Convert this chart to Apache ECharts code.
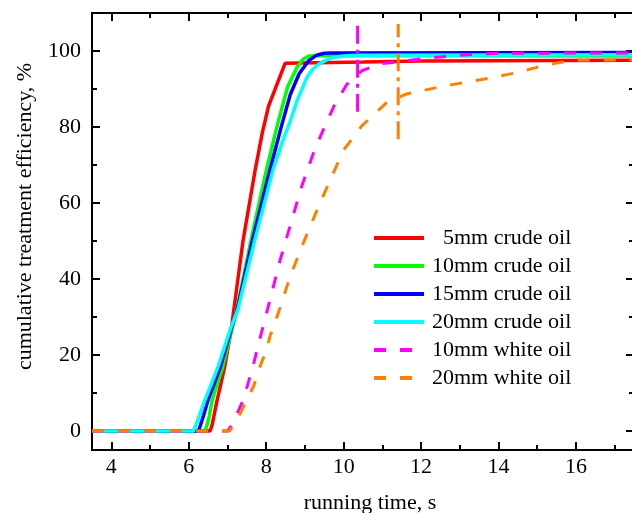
<!DOCTYPE html>
<html><head><meta charset="utf-8">
<script src="https://cdn.jsdelivr.net/npm/echarts@6/dist/echarts.min.js"></script>
<style>html,body{margin:0;padding:0;background:#fff}#c{width:632px;height:513px}</style>
</head><body><div id="c"></div>
<script>
const crude5 = [[3.5,0],[6.55,0],[6.6,1.5],[6.65,4],[6.73,8],[6.83,12.5],[6.93,17],[7.1,27],[7.4,50],[7.72,69],[7.9,78.5],[8.06,85.5],[8.49,96.8],[10.5,97.1],[12,97.4],[17.5,97.6]];
const crude10 = [[3.5,0],[6.42,0],[6.47,1.5],[6.53,4],[6.6,8],[6.74,12.5],[6.88,17],[7.12,27],[7.24,32],[7.61,50.4],[8.01,68.9],[8.3,81],[8.55,90.5],[8.8,95.8],[8.95,97.8],[9.1,98.7],[9.5,98.8],[17.5,98.7]];
const crude15 = [[3.5,0],[6.25,0],[6.3,1.5],[6.38,4],[6.5,8.2],[6.66,12.5],[6.82,17],[7.1,27],[7.25,32],[7.65,50.4],[8.1,68.9],[8.4,80.5],[8.62,88.5],[8.85,94],[9.1,97.5],[9.3,98.9],[9.5,99.4],[9.7,99.5],[17.5,99.6]];
const crude20 = [[3.5,0],[6.12,0],[6.18,1.5],[6.27,4],[6.42,8.2],[6.6,12.7],[6.76,17],[7.08,27],[7.27,32],[7.71,50.4],[8.18,68.9],[8.45,77],[8.62,81.5],[8.8,87],[9.05,93],[9.2,95.2],[9.35,96.5],[9.55,97.6],[9.74,98.3],[10.0,98.7],[10.3,98.9],[17.5,99.0]];
const white10 = [[3.5,0],[7.0,0],[7.11,1.5],[7.41,8.2],[7.67,17.5],[7.88,26],[8.1,34.6],[8.36,45],[8.79,60],[8.92,64.5],[9.25,74],[9.48,79.4],[9.75,85.5],[10.08,91.2],[10.47,94.8],[10.94,96.6],[11.98,97.9],[12.67,98.6],[13.27,99.1],[14.04,99.4],[17.5,99.5]];
const white20 = [[3.5,0],[7.05,0],[7.2,2],[7.5,8.2],[7.67,11.7],[7.84,17],[8.01,21.4],[8.1,25],[8.31,31],[8.62,40.7],[8.96,49.5],[9.39,60],[9.99,73.8],[10.47,80.3],[11.11,86.4],[11.63,88.7],[12.41,90.4],[13.1,91.7],[13.74,92.8],[14.47,94.3],[14.99,95.7],[15.59,97],[16.0,97.6],[17.5,97.6]];
const mark10 = [[10.36,84],[10.36,107.7]];
const mark20 = [[11.41,76.8],[11.41,107.1]];
const seriesNames = ['  5mm crude oil','10mm crude oil','15mm crude oil','20mm crude oil','10mm white oil','20mm white oil'];
const xMajor = [4,6,8,10,12,14,16];
const xMinor = [5,7,9,11,13,15,17];
const yMajor = [0,20,40,60,80,100];
const yMinor = [10,30,50,70,90];

const FONT = 'Liberation Serif';
function ax(kind, pos, vals, len, labels, extra) {
  const o = {
    type: 'value', position: pos,
    min: kind === 'x' ? 3.5 : -5, max: kind === 'x' ? 17.5 : 110,
    axisLine: {show: true, onZero: false, lineStyle: {color: '#000', width: 2}},
    axisTick: {show: true, inside: true, length: len, customValues: vals, lineStyle: {color: '#000', width: 2}},
    axisLabel: {show: labels, customValues: vals, color: '#000', fontFamily: FONT, fontSize: 22, margin: kind === 'x' ? 6 : 11},
    splitLine: {show: false}
  };
  return Object.assign(o, extra || {});
}
const lineS = (name, data, color, type, w) => ({
  name, type: 'line', data, symbol: 'none', showSymbol: false, smooth: false,
  lineStyle: {color, width: w, type}, itemStyle: {color}, z: 3, animation: false
});
const chart = echarts.init(document.getElementById('c'), null, {renderer: 'canvas'});
chart.setOption({
  animation: false,
  textStyle: {fontFamily: FONT},
  grid: {left: 92, right: -2, top: 13, bottom: 63, containLabel: false, outerBoundsMode: 'none'},
  legend: {
    left: 372, top: 227, orient: 'vertical', padding: 0,
    itemWidth: 50, itemHeight: 2, itemGap: 6,
    itemStyle: {opacity: 0},
    lineStyle: {width: 4},
    data: seriesNames,
    textStyle: {fontFamily: FONT, fontSize: 22, color: '#000', lineHeight: 22, padding: [0,0,0,3]}
  },
  xAxis: [
    ax('x', 'bottom', xMajor, 8, true, {name: 'running time, s', nameLocation: 'middle', nameGap: 42,
      nameTextStyle: {fontFamily: FONT, fontSize: 22, color: '#000', padding: [0,0,0,14]}}),
    ax('x', 'bottom', xMinor, 5, false),
    ax('x', 'top', xMajor, 8, false),
    ax('x', 'top', xMinor, 5, false)
  ],
  yAxis: [
    ax('y', 'left', yMajor, 8, true, {name: 'cumulative treatment efficiency, %', nameLocation: 'middle', nameGap: 56,
      nameTextStyle: {fontFamily: FONT, fontSize: 22, color: '#000', padding: [0,0,0,30]}}),
    ax('y', 'left', yMinor, 5, false),
    ax('y', 'right', yMajor, 8, false),
    ax('y', 'right', yMinor, 5, false)
  ],
  series: [
    lineS(seriesNames[0], crude5, '#ff0000', 'solid', 3.5),
    lineS(seriesNames[1], crude10, '#00ff00', 'solid', 3.5),
    lineS(seriesNames[2], crude15, '#0000ff', 'solid', 3.5),
    lineS(seriesNames[3], crude20, '#00ffff', 'solid', 3.5),
    lineS(seriesNames[4], white10, '#ff00ff', [12,14], 3),
    lineS(seriesNames[5], white20, '#ff8000', [12,14], 3),
    lineS('mark10', mark10, '#ff00ff', [18,6,4,6], 3),
    lineS('mark20', mark20, '#ff8000', [18,6,4,6], 3)
  ]
});
</script></body></html>
